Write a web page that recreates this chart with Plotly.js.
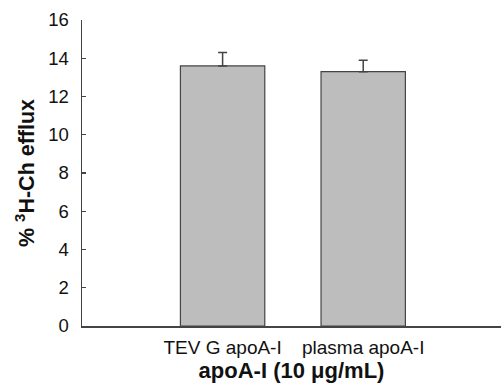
<!DOCTYPE html>
<html><head><meta charset="utf-8">
<script src="https://cdn.plot.ly/plotly-3.0.1.min.js"></script>
<style>html,body{margin:0;padding:0;background:#fff}#chart{width:501px;height:387px}</style>
</head><body><div id="chart"></div>
<script>
const categories = ["TEV G apoA-I", "plasma apoA-I"];
const efflux = [13.6, 13.3];
const errors = [0.7, 0.6];
const yTicks = [0, 2, 4, 6, 8, 10, 12, 14, 16];

const xs = categories.map((c, i) => i);
const trace = {
  type: "bar",
  x: xs,
  y: efflux,
  width: 0.6,
  marker: {color: "#bdbdbd", line: {color: "#444", width: 1.2}},
  error_y: {type: "data", array: errors, symmetric: false, arrayminus: errors.map(() => 0), visible: true, color: "#444", thickness: 1.5, width: 4.5},
  hoverinfo: "none"
};
const layout = {
  width: 501, height: 387,
  margin: {l: 82, r: 0, t: 20, b: 61},
  paper_bgcolor: "#fff", plot_bgcolor: "#fff",
  showlegend: false,
  font: {family: "Liberation Sans, Arial, sans-serif", color: "#111"},
  xaxis: {
    range: [-1, 1.98], tickmode: "array", tickvals: xs, ticktext: categories,
    showgrid: false, zeroline: false, showline: true, linecolor: "#444", linewidth: 1.5,
    ticks: "", tickfont: {size: 19, color: "#111"}, ticklabelstandoff: 4,
    title: {text: "<b>apoA-I (10 μg/mL)</b>", font: {size: 22, color: "#111"}, standoff: 3}
  },
  yaxis: {
    range: [0, 16], tickmode: "array", tickvals: yTicks,
    showgrid: false, zeroline: false, showline: true, linecolor: "#444", linewidth: 1.5,
    ticks: "inside", ticklen: 4, tickwidth: 1.2, tickcolor: "#444",
    tickfont: {size: 18.5, color: "#111"}, ticklabelstandoff: 8,
    title: {text: "<b>% <sup>3</sup>H-Ch efflux</b>", font: {size: 21.5, color: "#111"}, standoff: 7}
  }
};
Plotly.newPlot("chart", [trace], layout, {staticPlot: true, displayModeBar: false});
</script></body></html>
